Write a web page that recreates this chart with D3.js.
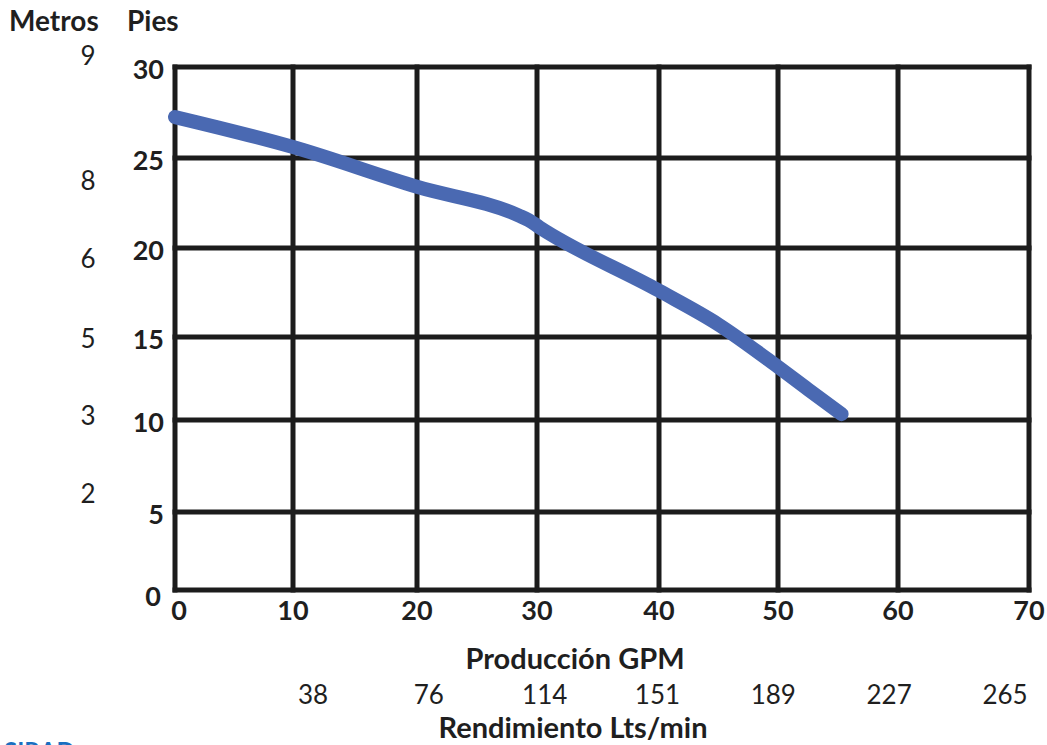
<!DOCTYPE html>
<html>
<head>
<meta charset="utf-8">
<script src="https://cdn.jsdelivr.net/npm/d3@7"></script>
<style>
  body { margin: 0; background: #fff; }
  text { font-family: Lato, "Open Sans", sans-serif; fill: #1f1f1f; }
</style>
</head>
<body>
<script>
// Data
const gpm   = [0, 10, 20, 28.5, 29.3, 30.2, 40, 45, 50, 52.5, 55.3];
const pies  = [27.25, 25.6, 23.4, 21.8, 21.55, 21.15, 17.6, 15.7, 13.2, 11.85, 10.35];
const gpmTicks  = [0, 10, 20, 30, 40, 50, 60, 70];
const piesTicks = [0, 5, 10, 15, 20, 25, 30];
const metrosLabels = ["9", "8", "6", "5", "3", "2"];
const metrosAtPies = [30.65, 23.8, 19.45, 14.95, 10.3, 6.05];
const ltsLabels = [38, 76, 114, 151, 189, 227, 265];

const width = 1047, height = 745;

var svg = d3.select("body")
    .append("svg")
    .attr("width", width)
    .attr("height", height)

// scales (the printed grid is not quite even, so polylinear)
const x = d3.scaleLinear()
    .domain(gpmTicks)
    .range([175, 293, 417, 537, 659, 778, 898, 1029]);
const y = d3.scaleLinear()
    .domain(piesTicks)
    .range([590, 512, 420, 337, 248, 158, 67]);
const xl = d3.scaleLinear()
    .domain(d3.extent(ltsLabels))
    .range([313, 1005]);

// grid
let grid = svg.append("g")
    .attr("stroke", "#1c1c1c")
    .attr("stroke-width", 5)
    .attr("stroke-linecap", "square");

grid.selectAll(".v")
    .data(gpmTicks)
    .enter()
    .append("line")
    .attr("x1", d => x(d)).attr("x2", d => x(d))
    .attr("y1", y(0)).attr("y2", y(30));

grid.selectAll(".h")
    .data(piesTicks)
    .enter()
    .append("line")
    .attr("y1", d => y(d)).attr("y2", d => y(d))
    .attr("x1", x(0)).attr("x2", x(70));

// curve
const line = d3.line()
    .x(d => x(d[0]))
    .y(d => y(d[1]))
    .curve(d3.curveMonotoneX);

svg.append("path")
    .datum(d3.zip(gpm, pies))
    .attr("d", line)
    .attr("fill", "none")
    .attr("stroke", "#4a69b2")
    .attr("stroke-width", 14)
    .attr("stroke-linecap", "round")
    .attr("stroke-linejoin", "round");

// x tick labels
svg.selectAll(".xt")
    .data(gpmTicks)
    .enter()
    .append("text")
    .attr("x", d => d == 0 ? x(d) + 4 : x(d))
    .attr("y", 620)
    .attr("text-anchor", "middle")
    .attr("font-size", 27)
    .attr("font-weight", "bold")
    .text(d => d);

// y tick labels (pies)
svg.selectAll(".yt")
    .data(piesTicks)
    .enter()
    .append("text")
    .attr("x", d => d == 0 ? 161 : 164)
    .attr("y", d => d == 0 ? 606 : y(d) + 12)
    .attr("text-anchor", "end")
    .attr("font-size", 27)
    .attr("font-weight", "bold")
    .text(d => d);

// metros labels
svg.selectAll(".mt")
    .data(metrosLabels)
    .enter()
    .append("text")
    .attr("x", 88)
    .attr("y", (d, i) => y(metrosAtPies[i]) + 10)
    .attr("text-anchor", "middle")
    .attr("font-size", 26)
    .text(d => d);

// lts/min labels
svg.selectAll(".lt")
    .data(ltsLabels)
    .enter()
    .append("text")
    .attr("x", d => xl(d))
    .attr("y", 704)
    .attr("text-anchor", "middle")
    .attr("font-size", 26)
    .text(d => d);

// titles
svg.append("text").attr("x", 9).attr("y", 31)
    .attr("font-size", 28).attr("font-weight", "bold").text("Metros");
svg.append("text").attr("x", 127).attr("y", 31)
    .attr("font-size", 28).attr("font-weight", "bold").text("Pies");
svg.append("text").attr("x", 575).attr("y", 669)
    .attr("text-anchor", "middle")
    .attr("font-size", 29).attr("font-weight", "bold").text("Producción GPM");
svg.append("text").attr("x", 573).attr("y", 738)
    .attr("text-anchor", "middle")
    .attr("font-size", 29).attr("font-weight", "bold").text("Rendimiento Lts/min");

// cut-off logo at the bottom edge
svg.append("text").attr("x", 4).attr("y", 760)
    .attr("font-size", 24).attr("font-weight", "bold")
    .style("fill", "#1a6fc0").text("SIRAD");
</script>
</body>
</html>
